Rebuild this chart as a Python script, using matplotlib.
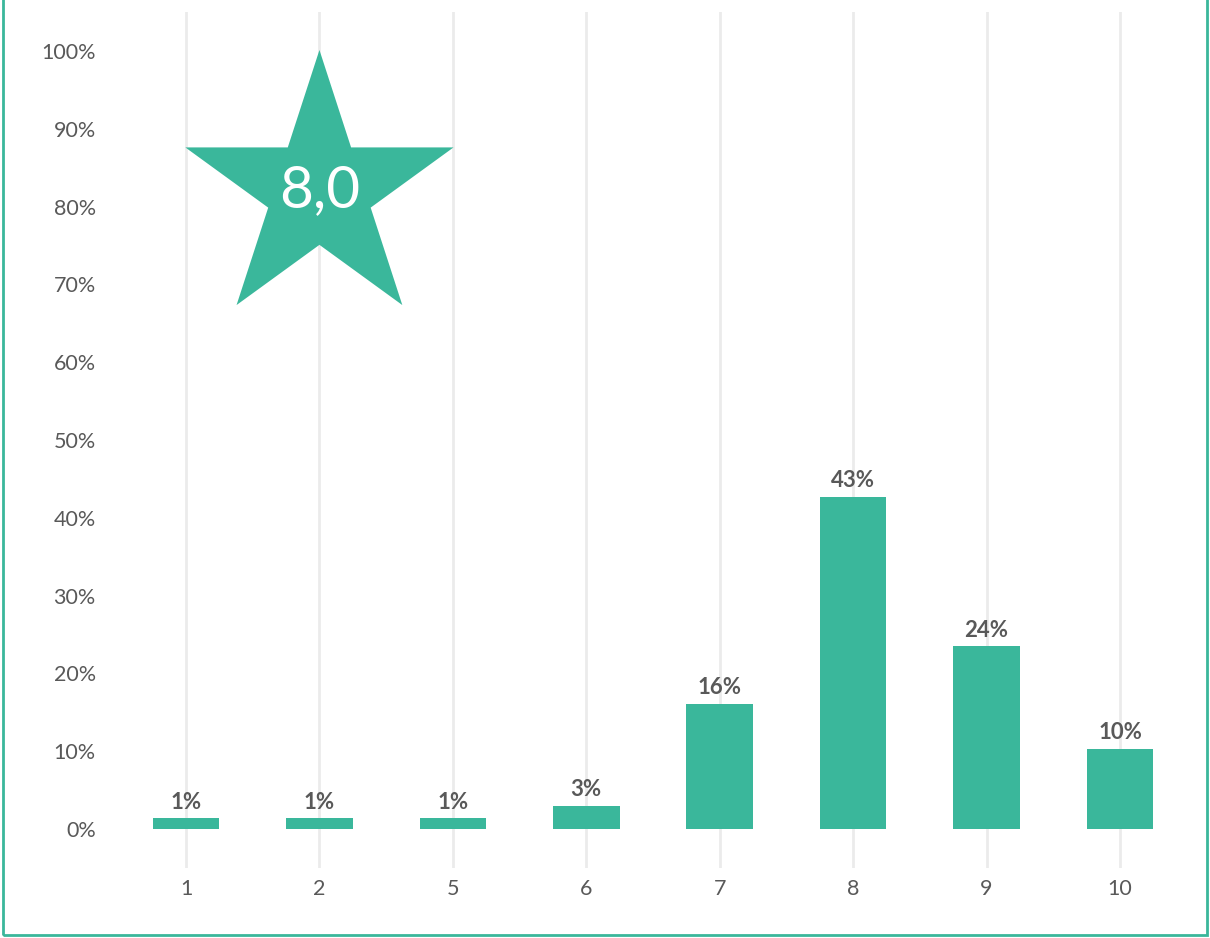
import matplotlib
matplotlib.use("Agg")
import matplotlib.pyplot as plt
import numpy as np
from matplotlib.patches import Polygon, Rectangle
from matplotlib.transforms import ScaledTranslation

categories = ["1", "2", "5", "6", "7", "8", "9", "10"]
values = [0.014, 0.014, 0.014, 0.030, 0.161, 0.427, 0.235, 0.103]
labels = ["1%", "1%", "1%", "3%", "16%", "43%", "24%", "10%"]
score_text = "8,0"

GREEN = "#3AB79B"
GREY = "#595959"
plt.rcParams['font.family'] = ['Lato', 'DejaVu Sans']

fig = plt.figure(figsize=(12.1, 9.38), dpi=100)
ax = fig.add_axes([119.3/1210, 1-868/938, 1067.4/1210, (868-12)/938])

x = np.arange(len(categories))
ax.bar(x, values, width=0.5, color=GREEN, zorder=3)
for xi, v, lab in zip(x, values, labels):
    ax.annotate(lab, (xi, v), xytext=(0, 4), textcoords="offset points",
                ha="center", va="bottom", fontsize=16, fontweight="bold", color=GREY)

ax.set_xlim(-0.5, len(categories) - 0.5)
ax.set_ylim(-0.05, 1.05)
ax.set_yticks(np.arange(0, 1.01, 0.1))
ax.set_yticklabels([f"{int(round(t*100))}%" for t in np.arange(0, 1.01, 0.1)])
ax.set_xticks(x)
ax.set_xticklabels(categories)
ax.tick_params(axis="both", length=0, labelsize=15.5, colors=GREY)
ax.tick_params(axis="y", pad=17)
ax.tick_params(axis="x", pad=8)
for s in ax.spines.values():
    s.set_visible(False)
ax.grid(axis="x", color="#EBEBEB", linewidth=2, zorder=0)
ax.set_axisbelow(True)

# star decoration
R = 1.41
r = R * 0.381966
angs_out = np.deg2rad(90 + np.arange(5) * 72)
angs_in = angs_out + np.deg2rad(36)
verts = []
for ao, ai in zip(angs_out, angs_in):
    verts.append((R*np.cos(ao), R*np.sin(ao)))
    verts.append((r*np.cos(ai), r*np.sin(ai)))
star_cx, star_cy = 1, 0.82
tr = fig.dpi_scale_trans + ScaledTranslation(star_cx, star_cy, ax.transData)
star = Polygon(verts, closed=True, facecolor=GREEN, edgecolor="none", transform=tr, zorder=5, clip_on=False)
ax.add_patch(star)
ax.text(star_cx, star_cy, score_text, ha="center", va="center", fontsize=42, color="white", zorder=6)

# border
fig.patches.append(Rectangle((3/1210, 3/938), 1204/1210, 1.0, transform=fig.transFigure,
                             fill=False, edgecolor=GREEN, linewidth=2))

fig.savefig("out.png", dpi=100)
